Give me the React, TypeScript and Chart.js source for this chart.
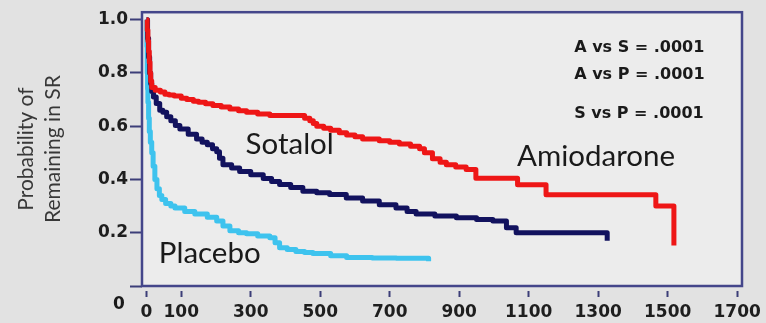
import { useEffect, useRef } from 'react';
import { Chart, registerables } from 'chart.js';
Chart.register(...registerables);

// ---- data (days, probability of remaining in sinus rhythm) ----
const amioDays = [0, 2, 4, 6, 8, 10, 12, 15, 25, 40, 53, 65, 80, 100, 116, 135, 150, 170, 191, 215, 240, 265, 288, 320, 355, 441, 455, 470, 480, 490, 510, 530, 555, 576, 600, 622, 670, 700, 728, 760, 786, 800, 823, 845, 863, 890, 920, 948, 1068, 1150, 1466, 1518];
const amioProb = [1.0, 0.96, 0.92, 0.88, 0.84, 0.80, 0.77, 0.745, 0.735, 0.728, 0.72, 0.717, 0.713, 0.705, 0.70, 0.694, 0.69, 0.684, 0.678, 0.672, 0.665, 0.658, 0.652, 0.646, 0.64, 0.64, 0.63, 0.62, 0.61, 0.60, 0.592, 0.585, 0.575, 0.567, 0.56, 0.552, 0.545, 0.54, 0.533, 0.525, 0.515, 0.50, 0.478, 0.465, 0.455, 0.447, 0.437, 0.405, 0.38, 0.343, 0.30, 0.152];

const sotaDays = [0, 3, 6, 9, 12, 15, 20, 28, 38, 47, 58, 70, 83, 96, 120, 144, 160, 175, 190, 202, 210, 220, 245, 268, 300, 336, 360, 383, 415, 450, 490, 527, 575, 622, 670, 718, 750, 776, 830, 892, 950, 997, 1036, 1064, 1326];
const sotaProb = [1.0, 0.93, 0.86, 0.80, 0.76, 0.73, 0.71, 0.685, 0.66, 0.652, 0.635, 0.62, 0.603, 0.589, 0.57, 0.552, 0.54, 0.53, 0.515, 0.504, 0.48, 0.455, 0.443, 0.43, 0.418, 0.404, 0.392, 0.381, 0.37, 0.356, 0.35, 0.344, 0.33, 0.319, 0.305, 0.293, 0.28, 0.27, 0.263, 0.256, 0.25, 0.244, 0.219, 0.20, 0.17];

const placDays = [0, 1, 2, 3, 4, 6, 8, 11, 15, 19, 24, 30, 37, 44, 55, 70, 82, 110, 139, 175, 202, 220, 240, 265, 288, 320, 355, 370, 383, 405, 430, 455, 479, 530, 576, 650, 719, 812];
const placProb = [1.0, 0.90, 0.80, 0.74, 0.69, 0.63, 0.58, 0.54, 0.50, 0.45, 0.40, 0.365, 0.34, 0.325, 0.31, 0.30, 0.293, 0.28, 0.27, 0.258, 0.244, 0.225, 0.207, 0.20, 0.196, 0.188, 0.181, 0.162, 0.144, 0.137, 0.13, 0.126, 0.122, 0.114, 0.107, 0.105, 0.104, 0.093];

const xTickValues = [0, 100, 300, 500, 700, 900, 1100, 1300, 1500, 1700];
const yTickValues = [0, 0.2, 0.4, 0.6, 0.8, 1.0];
const yTitle = ['Probability of', 'Remaining in SR'];
const seriesNames = ['Amiodarone', 'Sotalol', 'Placebo'];
const pValueTexts = ['A vs S = .0001', 'A vs P = .0001', 'S vs P = .0001'];

// label anchors in data coordinates [day, probability]
const seriesLabelAt: [number, number][] = [[1294, 0.485], [412, 0.533], [182, 0.122]];
const pValueAt: [number, number][] = [[1231, 0.893], [1231, 0.791], [1231, 0.646]];

const FONT = "Lato, 'Open Sans', sans-serif";
const TICK_FONT = "'DejaVu Sans', sans-serif";

const toPoints = (xs: number[], ys: number[]) => xs.map((x, i) => ({ x, y: ys[i] }));

const decor = {
  id: 'decor',
  beforeDraw(chart: any) {
    const { ctx, chartArea: a, width, height } = chart;
    ctx.save();
    ctx.fillStyle = '#e2e2e2';
    ctx.fillRect(0, 0, width, height);
    ctx.fillStyle = '#ececec';
    ctx.fillRect(a.left, a.top, a.right - a.left, a.bottom - a.top);
    ctx.restore();
  },
  afterDraw(chart: any) {
    const { ctx, chartArea: a, scales } = chart;
    const xs = scales.x, ys = scales.y;
    ctx.save();
    ctx.strokeStyle = '#44468a';
    ctx.lineWidth = 2.5;
    ctx.strokeRect(a.left, a.top, a.right - a.left, a.bottom - a.top);

    ctx.fillStyle = '#1a1a1a';
    ctx.textBaseline = 'middle';
    ctx.textAlign = 'center';
    ctx.font = `29.5px ${FONT}`;
    seriesNames.forEach((n, i) => {
      const [dx, dy] = seriesLabelAt[i];
      ctx.fillText(n, xs.getPixelForValue(dx), ys.getPixelForValue(dy));
    });
    ctx.textAlign = 'left';
    ctx.font = `bold 16px ${TICK_FONT}`;
    pValueTexts.forEach((t, i) => {
      const [dx, dy] = pValueAt[i];
      ctx.fillText(t, xs.getPixelForValue(dx), ys.getPixelForValue(dy));
    });
    // the y-axis zero, printed on the level of the x labels
    ctx.textAlign = 'center';
    ctx.font = `bold 17px ${TICK_FONT}`;
    ctx.fillText('0', a.left - 23, a.bottom + 19);
    ctx.restore();
  },
};

export default function App() {
  const ref = useRef<HTMLCanvasElement>(null);
  useEffect(() => {
    document.body.style.margin = '0';
    const chart = new Chart(ref.current!, {
      type: 'line',
      data: {
        datasets: [
          { label: seriesNames[0], data: toPoints(amioDays, amioProb), borderColor: '#ee1616' },
          { label: seriesNames[1], data: toPoints(sotaDays, sotaProb), borderColor: '#12125e' },
          { label: seriesNames[2], data: toPoints(placDays, placProb), borderColor: '#3ec3ee' },
        ].map((d) => ({ ...d, borderWidth: 5, pointRadius: 0, stepped: 'before' as const, fill: false, borderJoinStyle: 'round' as const })),
      },
      options: {
        animation: false,
        responsive: false,
        devicePixelRatio: 1,
        layout: { padding: { top: 9, right: 24, left: 0, bottom: 0 } },
        plugins: { legend: { display: false }, tooltip: { enabled: false } },
        scales: {
          x: {
            type: 'linear',
            min: -13,
            max: 1714,
            afterBuildTicks: (s: any) => { s.ticks = xTickValues.map((v) => ({ value: v })); },
            afterFit: (s: any) => { s.height = 37; },
            border: { display: false },
            grid: { drawOnChartArea: false, drawTicks: true, tickLength: 11, tickColor: '#3c3e78', tickWidth: 2, tickBorderDash: [0, 5, 6, 40] },
            ticks: { autoSkip: false, maxRotation: 0, padding: 5, color: '#1e1e1e', font: { family: TICK_FONT, size: 17, weight: 'bold' }, callback: (v: any) => String(v) },
          },
          y: {
            type: 'linear',
            min: 0,
            max: 1.028,
            afterBuildTicks: (s: any) => { s.ticks = yTickValues.map((v) => ({ value: v })); },
            afterFit: (s: any) => { s.width = 142; },
            border: { display: false },
            grid: { drawOnChartArea: false, drawTicks: true, tickLength: 12, tickColor: '#3c3e78', tickWidth: 2 },
            ticks: { padding: 2, color: '#1e1e1e', font: { family: TICK_FONT, size: 17, weight: 'bold' }, callback: (v: any) => (v === 0 ? '' : Number(v).toFixed(1)) },
            title: { display: true, text: yTitle, color: '#383838', font: { family: FONT, size: 21, lineHeight: 1.286 }, padding: { top: 12.5, bottom: 0 } },
          },
        },
      },
      plugins: [decor],
    });
    return () => chart.destroy();
  }, []);
  return (
    <div style={{ width: 766, height: 323 }}>
      <canvas ref={ref} width={766} height={323} style={{ display: 'block', width: 766, height: 323 }} />
    </div>
  );
}
